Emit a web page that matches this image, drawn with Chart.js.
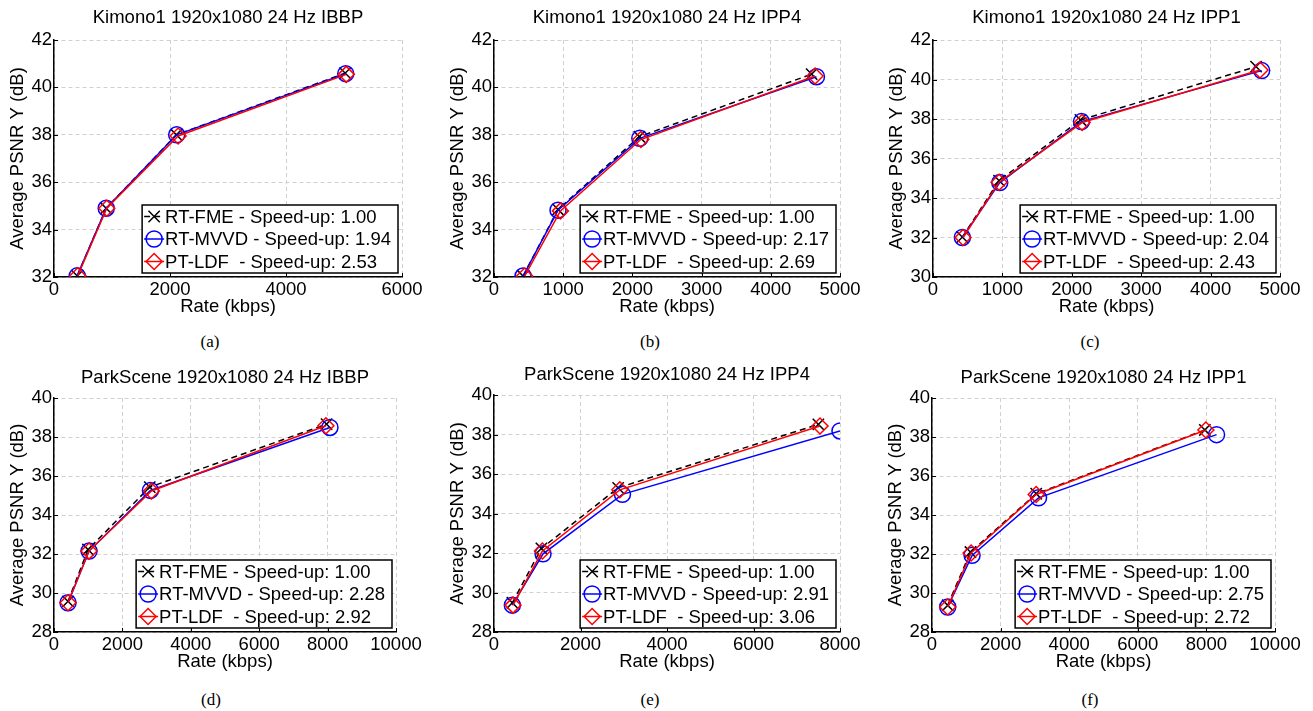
<!DOCTYPE html>
<html>
<head>
<meta charset="utf-8">
<script src="https://cdn.jsdelivr.net/npm/chart.js@4.4.1/dist/chart.umd.min.js"></script>
<style>
  body { margin: 0; background: #fff; width: 1313px; height: 711px; position: relative; overflow: hidden; }
  canvas { position: absolute; }
  .cap { position: absolute; font-family: "Liberation Serif", "Times New Roman", serif; font-size: 17px; color: #000; transform: translateX(-50%); }
</style>
</head>
<body>
<div class="cap" style="left:210px; top:332px">(a)</div>
<div class="cap" style="left:650px; top:332px">(b)</div>
<div class="cap" style="left:1090px; top:332px">(c)</div>
<div class="cap" style="left:211px; top:690px">(d)</div>
<div class="cap" style="left:650px; top:690px">(e)</div>
<div class="cap" style="left:1090px; top:690px">(f)</div>
<script>
// methods and speed-ups per panel
const methods = ['RT-FME', 'RT-MVVD', 'PT-LDF '];
const speedA = ['1.00', '1.94', '2.53'];
const speedB = ['1.00', '2.17', '2.69'];
const speedC = ['1.00', '2.04', '2.43'];
const speedD = ['1.00', '2.28', '2.92'];
const speedE = ['1.00', '2.91', '3.06'];
const speedF = ['1.00', '2.75', '2.72'];

// (a) Kimono1 IBBP
const aRateFME = [400, 900, 2110, 5020],  aPsnrFME = [32.05, 34.90, 38.00, 40.60];
const aRateMVVD = [400, 900, 2115, 5030], aPsnrMVVD = [32.05, 34.90, 38.00, 40.58];
const aRateLDF = [410, 910, 2140, 5040],  aPsnrLDF = [32.05, 34.90, 37.95, 40.55];
// (b) Kimono1 IPP4
const bRateFME = [420, 925, 2100, 4590],  bPsnrFME = [32.04, 34.85, 37.92, 40.56];
const bRateMVVD = [420, 925, 2107, 4660], bPsnrMVVD = [32.04, 34.82, 37.85, 40.45];
const bRateLDF = [443, 960, 2122, 4640],  bPsnrLDF = [32.04, 34.79, 37.80, 40.48];
// (c) Kimono1 IPP1
const cRateFME = [423, 952, 2125, 4655],  cPsnrFME = [32.02, 34.88, 37.95, 40.65];
const cRateMVVD = [423, 962, 2139, 4736], cPsnrMVVD = [32.00, 34.78, 37.87, 40.45];
const cRateLDF = [433, 952, 2149, 4712],  cPsnrLDF = [32.00, 34.80, 37.82, 40.48];
// (d) ParkScene IBBP
const dRateFME = [410, 995, 2800, 7970],   dPsnrFME = [29.57, 32.23, 35.43, 38.66];
const dRateMVVD = [410, 1024, 2820, 8068], dPsnrMVVD = [29.50, 32.15, 35.26, 38.49];
const dRateLDF = [410, 1024, 2849, 7951],  dPsnrLDF = [29.50, 32.15, 35.23, 38.58];
// (e) ParkScene IPP4
const eRateFME = [424, 1096, 2870, 7500],  ePsnrFME = [29.48, 32.23, 35.30, 38.51];
const eRateMVVD = [424, 1134, 2970, 8000], ePsnrMVVD = [29.36, 31.96, 34.97, 38.18];
const eRateLDF = [440, 1119, 2909, 7538],  ePsnrLDF = [29.36, 32.10, 35.20, 38.43];
// (f) ParkScene IPP1
const fRateFME = [458, 1120, 3038, 7955],  fPsnrFME = [29.37, 32.10, 35.09, 38.36];
const fRateMVVD = [458, 1168, 3106, 8296], fPsnrMVVD = [29.28, 31.93, 34.88, 38.12];
const fRateLDF = [458, 1139, 3038, 7984],  fPsnrLDF = [29.28, 32.05, 35.05, 38.36];

const FONT = '"Liberation Sans", Arial, sans-serif';
const FS = 18.5;

function pts(xs, ys) { return xs.map((x, i) => ({x: x, y: ys[i]})); }

// legend box drawn inside the plot area, bottom right
const boxLegend = {
  id: 'boxLegend',
  afterDraw(chart) {
    const ctx = chart.ctx, area = chart.chartArea;
    const ds = chart.data.datasets;
    ctx.save();
    ctx.font = FS + 'px ' + FONT;
    let tw = 0;
    ds.forEach(d => { tw = Math.max(tw, ctx.measureText(d.label).width); });
    const w = 23 + tw + 7, h = 68;
    const x0 = area.right - 4 - w, y0 = area.bottom - 4 - h;
    ctx.fillStyle = '#fff';
    ctx.fillRect(x0, y0, w, h);
    ctx.strokeStyle = '#000';
    ctx.lineWidth = 1.5;
    ctx.strokeRect(x0, y0, w, h);
    ds.forEach((d, i) => {
      const y = y0 + 11.5 + i * 22.5;
      ctx.beginPath();
      ctx.setLineDash(d.borderDash || []);
      ctx.strokeStyle = d.borderColor;
      ctx.lineWidth = d.borderWidth;
      ctx.moveTo(x0 + 2, y);
      ctx.lineTo(x0 + 22, y);
      ctx.stroke();
      ctx.setLineDash([]);
      ctx.lineWidth = d.pointBorderWidth;
      ctx.fillStyle = 'rgba(0,0,0,0)';
      Chart.helpers.drawPoint(ctx, {pointStyle: d.pointStyle, radius: d.pointRadius, rotation: 0, borderWidth: d.pointBorderWidth}, x0 + 12, y);
      ctx.fillStyle = '#000';
      ctx.textBaseline = 'middle';
      ctx.textAlign = 'left';
      ctx.fillText(d.label, x0 + 23, y + 1);
    });
    ctx.restore();
  }
};

// short inward tick marks on the left and bottom axes
const inwardTicks = {
  id: 'inwardTicks',
  afterDraw(chart) {
    const ctx = chart.ctx, area = chart.chartArea;
    const xs = chart.scales.x, ys = chart.scales.y;
    ctx.save();
    ctx.strokeStyle = '#000';
    ctx.lineWidth = 1;
    ctx.beginPath();
    xs.ticks.forEach(t => {
      const px = Math.round(xs.getPixelForValue(t.value)) + 0.5;
      ctx.moveTo(px, area.bottom);
      ctx.lineTo(px, area.bottom - 4);
    });
    ys.ticks.forEach(t => {
      const py = Math.round(ys.getPixelForValue(t.value)) + 0.5;
      ctx.moveTo(area.left, py);
      ctx.lineTo(area.left + 4, py);
    });
    ctx.stroke();
    ctx.restore();
  }
};

const panels = [
  {area: [54, 40, 402, 277], gap: 22, title: 'Kimono1 1920x1080 24 Hz IBBP', xMax: 6000, xStep: 2000, yMin: 32, yMax: 42, speed: speedA,
   series: [[aRateFME, aPsnrFME], [aRateMVVD, aPsnrMVVD], [aRateLDF, aPsnrLDF]]},
  {area: [494, 40, 840, 277], gap: 22, title: 'Kimono1 1920x1080 24 Hz IPP4', xMax: 5000, xStep: 1000, yMin: 32, yMax: 42, speed: speedB,
   series: [[bRateFME, bPsnrFME], [bRateMVVD, bPsnrMVVD], [bRateLDF, bPsnrLDF]]},
  {area: [933, 40, 1280, 277], gap: 22, title: 'Kimono1 1920x1080 24 Hz IPP1', xMax: 5000, xStep: 1000, yMin: 30, yMax: 42, speed: speedC,
   series: [[cRateFME, cPsnrFME], [cRateMVVD, cPsnrMVVD], [cRateLDF, cPsnrLDF]]},
  {area: [54, 398, 396, 632], gap: 20, title: 'ParkScene 1920x1080 24 Hz IBBP', xMax: 10000, xStep: 2000, yMin: 28, yMax: 40, speed: speedD,
   series: [[dRateFME, dPsnrFME], [dRateMVVD, dPsnrMVVD], [dRateLDF, dPsnrLDF]]},
  {area: [494, 395, 840, 632], gap: 20, title: 'ParkScene 1920x1080 24 Hz IPP4', xMax: 8000, xStep: 2000, yMin: 28, yMax: 40, speed: speedE,
   series: [[eRateFME, ePsnrFME], [eRateMVVD, ePsnrMVVD], [eRateLDF, ePsnrLDF]]},
  {area: [932, 398, 1275, 632], gap: 20, title: 'ParkScene 1920x1080 24 Hz IPP1', xMax: 10000, xStep: 2000, yMin: 28, yMax: 40, speed: speedF,
   series: [[fRateFME, fPsnrFME], [fRateMVVD, fPsnrMVVD], [fRateLDF, fPsnrLDF]]}
];

const styles = [
  {color: '#000000', dash: [6, 4], point: 'crossRot', radius: 8, order: 3},
  {color: '#0000ff', dash: [], point: 'circle', radius: 8, order: 2},
  {color: '#ff0000', dash: [], point: 'rectRot', radius: 8, order: 1}
];

const Y_W = 54, TOP_H = 40, X_H = 41, PAD_R = 28;

panels.forEach(p => {
  const [L, T, R, B] = p.area;
  const cv = document.createElement('canvas');
  const w = R - L + Y_W + PAD_R, h = B - T + TOP_H + X_H;
  cv.width = w; cv.height = h;
  cv.style.left = (L - Y_W) + 'px';
  cv.style.top = (T - TOP_H) + 'px';
  cv.style.width = w + 'px';
  cv.style.height = h + 'px';
  document.body.appendChild(cv);

  const datasets = p.series.map((s, i) => ({
    label: methods[i] + ' - Speed-up: ' + p.speed[i],
    data: pts(s[0], s[1]),
    borderColor: styles[i].color,
    backgroundColor: 'rgba(0,0,0,0)',
    borderWidth: 1.5,
    borderDash: styles[i].dash,
    pointStyle: styles[i].point,
    pointRadius: styles[i].radius,
    pointBorderColor: styles[i].color,
    pointBackgroundColor: 'rgba(0,0,0,0)',
    pointBorderWidth: 1.5,
    tension: 0,
    order: styles[i].order
  }));

  new Chart(cv.getContext('2d'), {
    type: 'line',
    data: {datasets: datasets},
    options: {
      responsive: false,
      animation: false,
      devicePixelRatio: 1,
      layout: {padding: {left: 0, top: 0, right: PAD_R, bottom: 0}},
      plugins: {
        legend: {display: false},
        tooltip: {enabled: false},
        title: {
          display: true,
          fullSize: false,
          text: p.title,
          color: '#000',
          font: {family: FONT, size: FS, weight: 'normal'},
          padding: {top: TOP_H - p.gap - FS * 0.6, bottom: p.gap - FS * 0.6}
        }
      },
      scales: {
        x: {
          type: 'linear',
          min: 0, max: p.xMax,
          afterFit(scale) { scale.height = X_H; },
          ticks: {stepSize: p.xStep, color: '#000', font: {family: FONT, size: FS}, padding: 2, autoSkip: false, maxRotation: 0,
                  format: {useGrouping: false}},
          grid: {color: '#d0d0d0', lineWidth: 1, drawTicks: false},
          border: {display: true, color: '#000', width: 1.5, dash: [4, 3]},
          title: {display: true, text: 'Rate (kbps)', color: '#000', font: {family: FONT, size: FS}, padding: {top: 0, bottom: 0}}
        },
        y: {
          min: p.yMin, max: p.yMax,
          afterFit(scale) { scale.width = Y_W; },
          ticks: {stepSize: 2, color: '#000', font: {family: FONT, size: FS}, padding: 2},
          grid: {color: '#d0d0d0', lineWidth: 1, drawTicks: false},
          border: {display: true, color: '#000', width: 1.5, dash: [4, 3]},
          title: {display: true, text: 'Average PSNR Y (dB)', color: '#000', font: {family: FONT, size: FS}, padding: {top: 7, bottom: 0}}
        }
      }
    },
    plugins: [inwardTicks, boxLegend]
  });
});
</script>
</body>
</html>
